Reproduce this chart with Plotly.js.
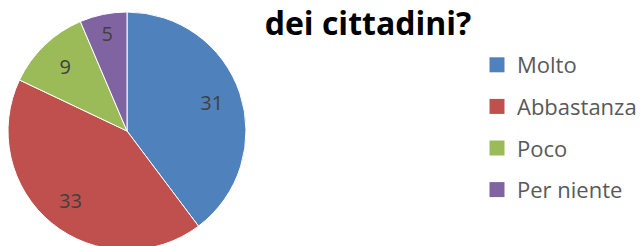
<!DOCTYPE html>
<html>
<head>
<meta charset="utf-8">
<script src="https://cdn.plot.ly/plotly-3.0.1.min.js"></script>
<style>
html,body{margin:0;padding:0;overflow:hidden;background:#fff;}
#chart{width:644px;height:250px;}
</style>
</head>
<body>
<div id="chart"></div>
<script>
var categories = ["Molto", "Abbastanza", "Poco", "Per niente"];
var values = [31, 33, 9, 5];
var colors = ["#4F81BD", "#C0504D", "#9BBB59", "#8064A2"];
var titleText = "dei cittadini?";

var pieDomain = {x: [8/644, 246/644], y: [0, 238/250]};

var traces = [{
  type: "pie",
  labels: categories,
  values: values,
  sort: false,
  direction: "clockwise",
  rotation: 0,
  textinfo: "none",
  marker: {colors: colors, line: {color: "#ffffff", width: 1}},
  domain: pieDomain,
  showlegend: false,
  hoverinfo: "label+value"
}, {
  type: "pie",
  labels: categories,
  values: values,
  sort: false,
  direction: "clockwise",
  rotation: 0,
  hole: 0.5,
  textinfo: "value",
  textposition: "inside",
  insidetextorientation: "horizontal",
  textfont: {family: "Open Sans", size: 20, color: "#404040"},
  marker: {colors: categories.map(function(){return "rgba(0,0,0,0)";}), line: {width: 0}},
  domain: pieDomain,
  showlegend: false,
  hoverinfo: "skip"
}];

categories.forEach(function(c, i){
  traces.push({
    type: "scatter", mode: "markers", x: [null], y: [null],
    name: c, legendgroup: "g" + i,
    marker: {symbol: "square", size: 15, color: colors[i]},
    showlegend: true, hoverinfo: "skip"
  });
});

var layout = {
  width: 644, height: 250,
  margin: {l: 0, r: 0, t: 0, b: 0},
  paper_bgcolor: "#ffffff", plot_bgcolor: "#ffffff",
  title: {text: "<b>" + titleText + "</b>", font: {family: "Open Sans", size: 32, color: "#000000"},
          x: 368/644, xanchor: "center", xref: "paper", y: 1 - 24/250, yanchor: "middle", yref: "container"},
  xaxis: {visible: false, domain: [0.9, 1]},
  yaxis: {visible: false, domain: [0.9, 1]},
  showlegend: true,
  legend: {x: 477/644, xanchor: "left", y: 1 - 44/250, yanchor: "top",
           font: {family: "Open Sans", size: 22, color: "#595959"},
           tracegroupgap: 10, itemclick: false, itemdoubleclick: false, bgcolor: "rgba(0,0,0,0)"}
};

Plotly.newPlot("chart", traces, layout, {displayModeBar: false, staticPlot: true});
</script>
</body>
</html>
